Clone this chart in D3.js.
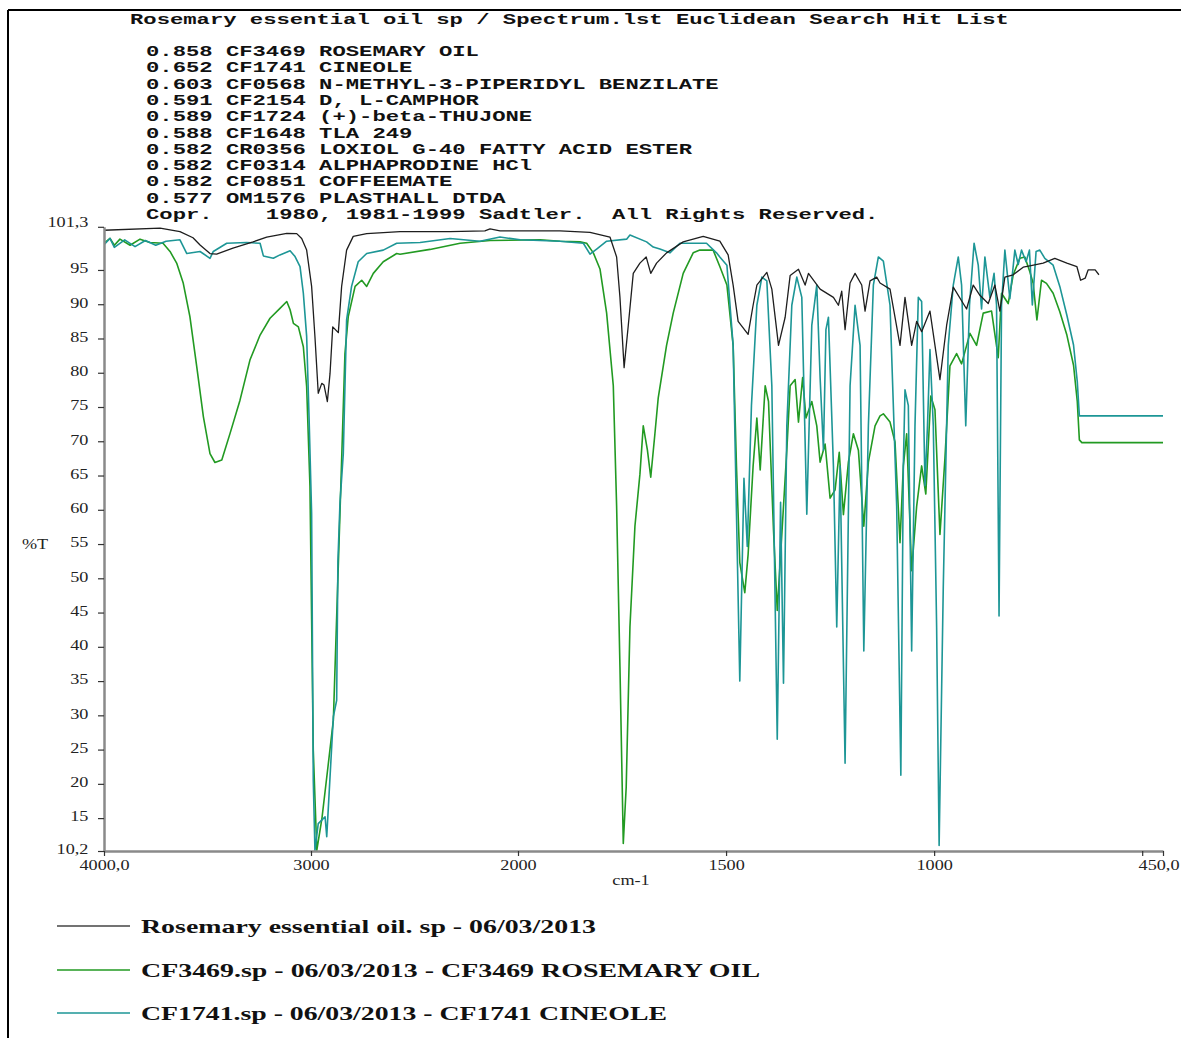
<!DOCTYPE html>
<html><head><meta charset="utf-8">
<script src="https://cdn.jsdelivr.net/npm/d3@7"></script>
<style>html,body{margin:0;padding:0;background:#fff;} svg{display:block;}</style>
</head><body>
<script>
// ---------- DATA ----------
const titleText = "Rosemary essential oil sp / Spectrum.lst Euclidean Search Hit List";
const hitScores = ["0.858","0.652","0.603","0.591","0.589","0.588","0.582","0.582","0.582","0.577"];
const hitCodes  = ["CF3469","CF1741","CF0568","CF2154","CF1724","CF1648","CR0356","CF0314","CF0851","OM1576"];
const hitNames  = ["ROSEMARY OIL","CINEOLE","N-METHYL-3-PIPERIDYL BENZILATE","D, L-CAMPHOR","(+)-beta-THUJONE","TLA 249","LOXIOL G-40 FATTY ACID ESTER","ALPHAPRODINE HCl","COFFEEMATE","PLASTHALL DTDA"];
const copyrightText = "Copr.    1980, 1981-1999 Sadtler.  All Rights Reserved.";

const xTickValues = [4000, 3000, 2000, 1500, 1000, 500, 450];
const xTickLabels = ["4000,0", "3000", "2000", "1500", "1000", "", "450,0"];
const yTickValues = [101.3, 95, 90, 85, 80, 75, 70, 65, 60, 55, 50, 45, 40, 35, 30, 25, 20, 15, 10.2];
const yTickLabels = ["101,3","95","90","85","80","75","70","65","60","55","50","45","40","35","30","25","20","15","10,2"];
const xAxisTitle = "cm-1";
const yAxisTitle = "%T";

const seriesNames = [
  "Rosemary essential oil. sp - 06/03/2013",
  "CF3469.sp - 06/03/2013 - CF3469 ROSEMARY OIL",
  "CF1741.sp - 06/03/2013 - CF1741 CINEOLE"
];

// [wavenumber cm-1, %T]
const sampleSpectrum = [[4000,100.8],[3729,101.1],[3633,100.6],[3570,99.7],[3536,98.65],[3488,97.4],[3456,97.3],[3377,98.2],[3280,99.1],[3214,99.8],[3117,100.35],[3069,100.3],[3045,99.6],[3021,97.9],[2997,92.6],[2981,85.3],[2965,77.0],[2948,78.45],[2937,78.2],[2921,75.8],[2908,79.9],[2895,86.7],[2868,85.85],[2852,92.6],[2828,97.9],[2796,99.9],[2731,100.3],[2570,100.6],[2328,100.6],[2160,100.7],[2135,101.0],[2087,100.7],[1899,100.7],[1827,100.5],[1779,99.8],[1763,96.9],[1755,91.0],[1745,80.75],[1735,86.9],[1723,94.5],[1707,96.0],[1692,96.9],[1681,94.5],[1667,96.0],[1643,97.5],[1603,99.1],[1555,99.9],[1515,99.2],[1495,97.2],[1483,92.8],[1471,87.5],[1447,85.6],[1435,89.85],[1426,92.8],[1402,94.65],[1390,92.2],[1374,84.0],[1358,88.1],[1346,94.2],[1326,95.1],[1310,92.8],[1302,94.5],[1274,92.2],[1242,91.0],[1230,89.85],[1222,91.9],[1214,86.3],[1202,93.1],[1190,94.5],[1174,92.8],[1166,89.0],[1154,93.4],[1138,93.95],[1130,93.1],[1106,92.2],[1082,84.0],[1070,91.0],[1054,84.0],[1042,87.5],[1030,86.0],[1010,89.0],[986,79.0],[970,86.9],[954,92.5],[922,89.3],[906,92.8],[890,91.3],[870,90.1],[854,92.8],[842,89.0],[830,93.95],[810,94.3],[786,95.4],[770,95.6],[738,96.0],[710,96.7],[681,96.0],[657,95.5],[648,93.5],[637,93.8],[630,95.0],[613,95.0],[604,94.3]];

const rosemaryOilRef = [[4000,98.9],[3971,99.6],[3950,98.6],[3923,99.5],[3874,98.6],[3826,99.5],[3778,99.0],[3715,98.9],[3681,97.7],[3649,96.0],[3617,93.05],[3585,88.2],[3552,80.9],[3520,73.6],[3488,68.2],[3464,66.9],[3431,67.25],[3391,71.15],[3343,76.0],[3295,81.85],[3246,85.5],[3198,87.95],[3150,89.4],[3117,90.4],[3101,89.2],[3085,87.2],[3061,86.7],[3037,83.8],[3021,77.95],[3005,63.4],[2989,24.9],[2972,10.3],[2947,15],[2918,22.5],[2892,29.3],[2860,59.5],[2836,82.8],[2820,88.2],[2787,92.6],[2755,93.5],[2731,92.6],[2699,94.5],[2651,96.2],[2586,97.4],[2570,97.3],[2425,98.0],[2280,98.9],[2135,99.3],[1947,99.4],[1899,99.2],[1851,99.1],[1835,98.9],[1819,97.5],[1803,95.15],[1787,88.7],[1771,78.1],[1763,60.5],[1755,37.1],[1747,11.3],[1740,19.5],[1731,42.9],[1719,57.6],[1707,65.2],[1699,72.25],[1689,68.7],[1681,64.75],[1671,71.1],[1663,76.35],[1643,84.0],[1627,88.7],[1603,94.5],[1579,97.5],[1563,97.9],[1531,97.9],[1515,95.5],[1498,92.8],[1483,84.0],[1475,66.4],[1467,52.3],[1455,47.9],[1447,53.5],[1435,66.4],[1426,73.4],[1418,65.8],[1406,78.1],[1398,75.8],[1386,57.0],[1377,45.3],[1366,56.4],[1354,68.7],[1346,78.1],[1334,79.0],[1326,72.8],[1316,79.3],[1308,73.4],[1294,75.8],[1282,72.25],[1274,66.95],[1262,69.6],[1250,61.7],[1238,62.9],[1228,68.4],[1218,59.3],[1206,66.95],[1194,71.1],[1182,68.7],[1169,57.6],[1158,66.95],[1142,72.25],[1130,73.7],[1122,74.0],[1106,72.8],[1094,69.9],[1082,55.2],[1074,66.4],[1066,71.1],[1054,51.1],[1042,60.5],[1030,66.4],[1020,62.3],[1008,76.6],[998,74.6],[986,56.4],[974,67.55],[962,81.0],[946,82.8],[934,81.3],[914,85.75],[898,84.0],[882,88.7],[862,89.0],[846,82.2],[838,91.6],[822,90.1],[810,94.3],[794,96.7],[782,96.9],[770,94.75],[762,93.05],[753,87.7],[742,93.5],[730,93.05],[714,91.6],[698,88.9],[681,85.5],[665,81.1],[656,75.8],[651,70.2],[645,69.8],[450,69.8]];

const cineoleRef = [[4000,98.7],[3971,99.6],[3950,98.3],[3900,99.4],[3850,98.4],[3800,99.3],[3750,98.6],[3700,99.2],[3633,99.4],[3600,97.4],[3536,97.7],[3488,96.7],[3472,97.7],[3407,98.9],[3311,99.0],[3246,98.9],[3230,97.05],[3182,96.7],[3150,97.2],[3101,97.8],[3077,96.95],[3053,95.5],[3037,91.6],[3021,85.3],[3009,73.1],[2997,59.5],[2989,20.5],[2981,10.3],[2965,14.2],[2948,14.7],[2932,15.2],[2924,12.3],[2908,21.05],[2892,29.8],[2876,32.2],[2870,52.5],[2860,61],[2844,68.2],[2828,87.7],[2804,92.6],[2772,96.2],[2731,97.4],[2651,97.9],[2586,98.9],[2473,99.0],[2328,99.6],[2184,99.2],[2087,99.8],[1995,99.4],[1899,99.2],[1843,98.9],[1827,97.3],[1811,98.05],[1787,99.2],[1739,99.5],[1731,100.1],[1691,99.1],[1675,98.35],[1659,98.05],[1635,97.5],[1611,98.9],[1547,98.9],[1523,97.5],[1515,96.9],[1498,95.7],[1483,84.0],[1467,35.0],[1457,64.6],[1449,54.65],[1439,75.2],[1426,89.85],[1414,93.95],[1402,93.4],[1390,78.1],[1377,26.5],[1369,61.1],[1362,34.7],[1354,72.25],[1342,89.85],[1330,93.95],[1318,91.0],[1306,59.35],[1294,86.9],[1282,92.8],[1274,79.3],[1266,68.7],[1260,86.3],[1254,88.1],[1242,66.4],[1234,42.9],[1226,66.4],[1214,23.0],[1202,78.1],[1190,89.85],[1178,84.0],[1169,39.4],[1158,72.25],[1146,92.8],[1134,96.9],[1122,96.3],[1106,89.85],[1090,60.5],[1080,21.25],[1074,66.4],[1070,77.5],[1062,75.2],[1054,39.4],[1046,72.25],[1038,91.0],[1030,90.4],[1022,63.5],[1016,72.25],[1010,83.4],[1002,72.25],[994,42.9],[988,11.0],[978,48.8],[966,84.0],[954,92.8],[942,96.9],[934,92.8],[924,72.25],[915,89.85],[904,98.9],[894,95.7],[886,89.3],[878,96.9],[866,91.0],[856,94.5],[850,89.85],[844,44.5],[838,89.85],[830,97.9],[818,90.8],[806,97.9],[798,95.8],[790,97.9],[779,96.2],[771,97.9],[764,89.9],[755,97.7],[746,97.9],[734,96.7],[714,95.7],[698,92.6],[681,88.4],[665,84.05],[656,78.7],[651,73.7],[450,73.7]];

const allSeries = [sampleSpectrum, rosemaryOilRef, cineoleRef];
const seriesColors = ["#1e1e1e", "#229a22", "#1d9696"];

// ---------- DRAW ----------
const W = 1181, H = 1038;
const svg = d3.select("body").append("svg").attr("width", W).attr("height", H);

// frame
svg.append("line").attr("x1", 8).attr("x2", W).attr("y1", 10).attr("y2", 10).attr("stroke", "#000").attr("stroke-width", 2);
svg.append("line").attr("x1", 8).attr("x2", 8).attr("y1", 10).attr("y2", H).attr("stroke", "#000").attr("stroke-width", 2);

// header (monospace, horizontally stretched)
const monoScale = 1.48;
const header = svg.append("g").attr("font-family", "'Liberation Mono', 'DejaVu Sans Mono', monospace")
  .attr("font-size", 15).attr("font-weight", "bold").attr("fill", "#111");
function monoText(str, x, y) {
  header.append("text").attr("transform", `translate(${x},${y}) scale(${monoScale},1)`)
    .style("white-space", "pre").text(str);
}
monoText(titleText, 130, 24);
hitScores.forEach((s, i) => monoText(`${s} ${hitCodes[i]} ${hitNames[i]}`, 146, 56 + i * 16.3));
monoText(copyrightText, 146, 56 + 10 * 16.3);

// scales
const x = d3.scaleLinear().domain([4000, 2000, 450]).range([104, 518, 1163]);
const y = d3.scaleLinear().domain([10.2, 101.3]).range([851, 226.8]);

svg.append("defs").append("clipPath").attr("id", "plotclip").append("rect")
  .attr("x", 104).attr("y", 224).attr("width", 1163 - 104 + 2).attr("height", 851 - 224 + 1);

const line = d3.line().x(d => x(d[0])).y(d => y(d[1]));
const plot = svg.append("g").attr("clip-path", "url(#plotclip)");
[1, 2, 0].forEach(i => {
  plot.append("path").datum(allSeries[i]).attr("d", line).attr("fill", "none")
    .attr("stroke", seriesColors[i]).attr("stroke-width", i === 0 ? 1.3 : 1.6)
    .attr("stroke-linejoin", "round");
});

// axes
const serif = "'Liberation Serif', 'Times New Roman', serif";
const textStretch = 1.3;
const yAxis = svg.append("g").attr("transform", "translate(104,0)")
  .call(d3.axisLeft(y).tickValues(yTickValues).tickFormat((d, i) => yTickLabels[i]).tickSize(6).tickPadding(6).tickSizeOuter(0));
const xAxis = svg.append("g").attr("transform", "translate(0,851)")
  .call(d3.axisBottom(x).tickValues(xTickValues).tickFormat((d, i) => xTickLabels[i]).tickSize(5).tickPadding(4).tickSizeOuter(0));
[yAxis, xAxis].forEach(g => {
  g.select(".domain").attr("stroke", "#8a8a8a").attr("stroke-width", 2.5);
  g.selectAll(".tick line").attr("stroke", "#333").attr("stroke-width", 1.2);
  g.selectAll(".tick text").attr("font-family", serif).attr("font-size", 14).attr("fill", "#222")
    .attr("transform", `scale(${textStretch},1)`);
});
yAxis.selectAll(".tick text").attr("dy", "0.2em");
yAxis.selectAll(".tick").filter(d => d === 101.3).select("text").attr("dy", "-0.05em");
// keep the last x label inside the page, as in the original
xAxis.selectAll(".tick").filter(d => d === 450).select("text")
  .attr("text-anchor", "end").attr("x", (W - 2 - 1163) / textStretch);

svg.append("text").attr("transform", `translate(631,885) scale(${textStretch},1)`).attr("text-anchor", "middle")
  .attr("font-family", serif).attr("font-size", 14).attr("fill", "#222").text(xAxisTitle);
svg.append("text").attr("transform", `translate(35,549) scale(${textStretch},1)`).attr("text-anchor", "middle")
  .attr("font-family", serif).attr("font-size", 14).attr("fill", "#222").text(yAxisTitle);

// legend
const legendY = [926, 970, 1013];
const legendW = [455, 619, 526];
seriesNames.forEach((name, i) => {
  svg.append("line").attr("x1", 57).attr("x2", 130).attr("y1", legendY[i]).attr("y2", legendY[i])
    .attr("stroke", i === 0 ? "#444" : seriesColors[i]).attr("stroke-width", 1.6);
  svg.append("text").attr("x", 141).attr("y", legendY[i] + 6.5)
    .attr("font-family", serif).attr("font-weight", "bold").attr("font-size", 19).attr("fill", "#111")
    .attr("textLength", legendW[i]).attr("lengthAdjust", "spacingAndGlyphs").text(name);
});
</script>
</body></html>
